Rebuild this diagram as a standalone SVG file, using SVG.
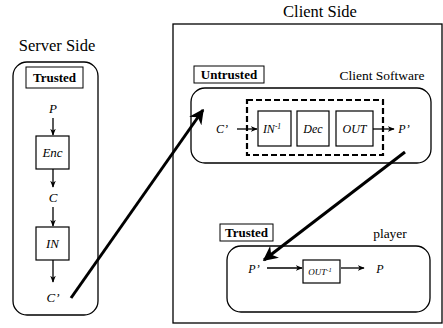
<svg xmlns="http://www.w3.org/2000/svg" width="443" height="328" viewBox="0 0 443 328">
  <defs>
    <marker id="ah" viewBox="0 0 10 10" refX="9" refY="5" markerWidth="7" markerHeight="7" orient="auto" markerUnits="userSpaceOnUse">
      <path d="M0,1 L10,5 L0,9 L3,5 Z" fill="#000"/>
    </marker>
    <marker id="ahBig" viewBox="0 0 10 10" refX="9" refY="5" markerWidth="5" markerHeight="5" orient="auto">
      <path d="M0,0 L10,5 L0,10 L3,5 Z" fill="#000"/>
    </marker>
  </defs>
  <style>
    text { font-family: "Liberation Serif", "Times New Roman", serif; fill: #000; }
    .title { font-size: 16.5px; text-anchor: middle; }
    .tag { font-size: 13px; font-weight: bold; text-anchor: middle; }
    .lbl { font-size: 13px; font-style: italic; text-anchor: middle; }
    .mid { font-size: 12px; font-style: italic; text-anchor: middle; }
    .small { font-size: 9px; font-style: italic; text-anchor: middle; }
    .name { font-size: 13.5px; text-anchor: middle; }
    .frame { fill: none; stroke: #000; stroke-width: 1.3; }
    .box { fill: #fff; stroke: #000; stroke-width: 1.2; }
    .tagbox { fill: #fff; stroke: #000; stroke-width: 1; }
    .arr { stroke: #000; stroke-width: 1.3; fill: none; marker-end: url(#ah); }
    .big { stroke: #000; stroke-width: 3; fill: none; marker-end: url(#ahBig); }
  </style>

  <!-- Server side -->
  <g id="server">
    <text class="title" x="57" y="51">Server Side</text>
    <rect class="frame" x="13" y="62" width="85" height="253" rx="14"/>
    <rect class="tagbox" x="26" y="67" width="57" height="21"/>
    <text class="tag" x="54.5" y="82">Trusted</text>
  </g>
  <g id="s-P"><text class="lbl" x="53" y="113">P</text></g>
  <g id="s-Enc">
    <rect class="box" x="36" y="136" width="33" height="33"/>
    <text class="lbl" x="52.5" y="157">Enc</text>
  </g>
  <g id="s-C"><text class="lbl" x="53" y="202">C</text></g>
  <g id="s-IN">
    <rect class="box" x="36" y="227" width="33" height="33"/>
    <text class="lbl" x="52.5" y="248">IN</text>
  </g>
  <g id="s-Cp"><text class="lbl" x="53" y="302">C’</text></g>

  <!-- Client side -->
  <g id="client">
    <text class="title" x="320" y="17">Client Side</text>
    <rect class="frame" x="173" y="24" width="269" height="299"/>
  </g>
  <g id="client-software">
    <rect class="tagbox" x="194" y="66" width="70" height="17"/>
    <text class="tag" x="229" y="79">Untrusted</text>
    <text class="name" x="382" y="80">Client Software</text>
    <rect class="frame" x="191" y="88" width="240" height="75" rx="14"/>
    <rect fill="none" stroke="#000" stroke-width="2.2" stroke-dasharray="6,3" x="247" y="100" width="136" height="55"/>
  </g>
  <g id="c-Cp"><text class="mid" x="222" y="133">C’</text></g>
  <g id="c-INinv">
    <rect class="box" x="258" y="111" width="33" height="35"/>
    <text class="mid" x="272" y="133">IN<tspan font-size="7.5" dy="-4">-1</tspan></text>
  </g>
  <g id="c-Dec">
    <rect class="box" x="297" y="111" width="32" height="35"/>
    <text class="mid" x="313" y="133">Dec</text>
  </g>
  <g id="c-OUT">
    <rect class="box" x="336" y="111" width="37" height="35"/>
    <text class="mid" x="354.5" y="133">OUT</text>
  </g>
  <g id="c-Pp"><text class="mid" x="404" y="133">P’</text></g>

  <g id="player">
    <rect class="tagbox" x="220" y="224" width="53" height="17"/>
    <text class="tag" x="246.5" y="237">Trusted</text>
    <text class="name" x="390" y="238">player</text>
    <rect class="frame" x="227" y="246" width="203" height="66" rx="14"/>
  </g>
  <g id="p-Pp"><text class="mid" x="254" y="273">P’</text></g>
  <g id="p-OUTinv">
    <rect class="box" x="303" y="260" width="37" height="23"/>
    <text class="small" x="320" y="275">OUT<tspan font-size="6.5" dy="-3">-1</tspan></text>
  </g>
  <g id="p-P"><text class="mid" x="380" y="273">P</text></g>

  <!-- Connectors -->
  <g id="connectors">
    <line class="arr" x1="53" y1="118" x2="53" y2="135"/>
    <line class="arr" x1="53" y1="169" x2="53" y2="187"/>
    <line class="arr" x1="53" y1="207" x2="53" y2="226"/>
    <line class="arr" x1="53" y1="260" x2="53" y2="282"/>
    <line class="arr" x1="237" y1="129" x2="257" y2="129"/>
    <line class="arr" x1="373" y1="129" x2="394" y2="129"/>
    <line class="arr" x1="267" y1="268" x2="302" y2="268"/>
    <line class="arr" x1="341" y1="268" x2="364" y2="268"/>
    <line class="big" x1="71" y1="298" x2="203" y2="110"/>
    <line class="big" x1="405" y1="152" x2="264" y2="260"/>
  </g>
</svg>
